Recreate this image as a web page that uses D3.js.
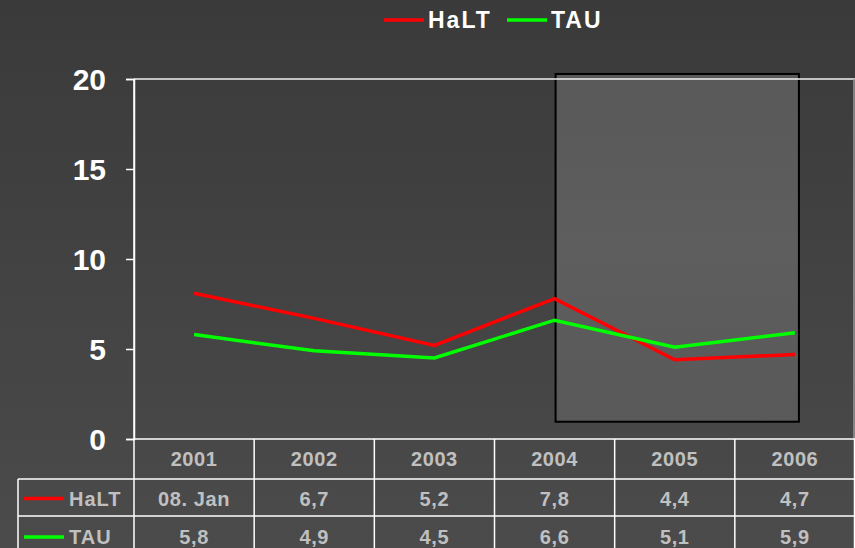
<!DOCTYPE html>
<html><head><meta charset="utf-8">
<script src="https://cdn.jsdelivr.net/npm/d3@7"></script>
<style>html,body{margin:0;padding:0;overflow:hidden;background:#3a3a3a}</style>
</head><body><svg id="c" width="855" height="548"></svg>
<script>
const categories = ["2001","2002","2003","2004","2005","2006"];
const haltValues = [8.1, 6.7, 5.2, 7.8, 4.4, 4.7];
const tauValues = [5.8, 4.9, 4.5, 6.6, 5.1, 5.9];
const haltLabels = ["08. Jan","6,7","5,2","7,8","4,4","4,7"];
const tauLabels = ["5,8","4,9","4,5","6,6","5,1","5,9"];
const seriesNames = ["HaLT","TAU"];
const seriesColors = ["#ff0000","#00ff00"];
const yTicks = [0,5,10,15,20];
const highlight = {from:"2004", to:"2006", low:0.96, high:20.28};

(function(){
const svg = d3.select("#c");
const W=855,H=548;
const defs = svg.append("defs");
const bg = defs.append("linearGradient").attr("id","bg").attr("x1",0).attr("y1",0).attr("x2",0).attr("y2",1);
bg.append("stop").attr("offset","0%").attr("stop-color","#3a3a3a");
bg.append("stop").attr("offset","100%").attr("stop-color","#4b4b4b");
const hg = defs.append("linearGradient").attr("id","hg").attr("x1",0).attr("y1",0).attr("x2",0).attr("y2",1);
hg.append("stop").attr("offset","0%").attr("stop-color","#595959");
hg.append("stop").attr("offset","50%").attr("stop-color","#5e5e5e");
hg.append("stop").attr("offset","100%").attr("stop-color","#595959");
svg.append("rect").attr("width",W).attr("height",H).attr("fill","url(#bg)");

const pLeft=134, pRight=855, pTop=79, pBottom=439;
const x = d3.scaleBand().domain(categories).range([pLeft,pRight]).padding(0);
const y = d3.scaleLinear().domain([0,20]).range([pBottom,pTop]);
const cx = c => x(c)+x.bandwidth()/2;

svg.append("rect")
  .attr("x", cx(highlight.from)+1).attr("y", y(highlight.high))
  .attr("width", cx(highlight.to)-cx(highlight.from)+3)
  .attr("height", y(highlight.low)-y(highlight.high))
  .attr("fill","url(#hg)").attr("stroke","#000").attr("stroke-width",2);

svg.append("line").attr("x1",pLeft).attr("x2",pRight).attr("y1",y(20)).attr("y2",y(20)).attr("stroke","#f0f0f0").attr("stroke-width",1.3);
svg.append("line").attr("x1",854).attr("x2",854).attr("y1",y(20)).attr("y2",pBottom).attr("stroke","#9a9a9a").attr("stroke-width",1.5);

const yAxis = d3.axisLeft(y).tickValues(yTicks).tickSize(8).tickPadding(20);
const ya = svg.append("g").attr("transform",`translate(${pLeft},0)`).call(yAxis);
ya.select(".domain").attr("stroke","#ffffff").attr("stroke-width",1.5);
ya.selectAll(".tick line").attr("stroke","#ffffff").attr("stroke-width",1.5);
ya.selectAll(".tick text").attr("fill","#ffffff").attr("font-family","Liberation Sans, Arial, sans-serif")
  .attr("font-weight","bold").attr("font-size","30px").attr("dy","0.35em");

const line = d3.line().x((d,i)=>cx(categories[i])).y(d=>y(d));
[haltValues,tauValues].forEach((vals,k)=>{
  svg.append("path").datum(vals).attr("d",line).attr("fill","none")
    .attr("stroke",seriesColors[k]).attr("stroke-width",3.5).attr("stroke-linejoin","miter");
});

const rowY = [439,479,516,548];
const tbl = svg.append("g");
const lc="#ffffff";
tbl.append("line").attr("x1",pLeft).attr("x2",pRight).attr("y1",rowY[0]).attr("y2",rowY[0]).attr("stroke",lc).attr("stroke-width",1.5);
tbl.append("line").attr("x1",18).attr("x2",pRight).attr("y1",rowY[1]).attr("y2",rowY[1]).attr("stroke",lc).attr("stroke-width",1.5);
tbl.append("line").attr("x1",18).attr("x2",pRight).attr("y1",rowY[2]).attr("y2",rowY[2]).attr("stroke",lc).attr("stroke-width",1.5);
tbl.append("line").attr("x1",18).attr("x2",18).attr("y1",rowY[1]).attr("y2",H).attr("stroke",lc).attr("stroke-width",1.5);
categories.forEach(c=>{
  tbl.append("line").attr("x1",x(c)).attr("x2",x(c)).attr("y1",x(c)===pLeft?pTop:rowY[0]).attr("y2",H).attr("stroke",lc).attr("stroke-width",1.5);
});
tbl.append("line").attr("x1",pRight-0.5).attr("x2",pRight-0.5).attr("y1",rowY[0]).attr("y2",H).attr("stroke",lc).attr("stroke-width",1.5);

const tf = "Liberation Sans, Arial, sans-serif";
const tcol = "#c0c0c0";
const fs = "20px";
tbl.selectAll("text.h").data(categories).join("text").attr("class","h")
  .attr("x",d=>cx(d)).attr("y",(rowY[0]+rowY[1])/2).attr("dy","0.36em")
  .attr("text-anchor","middle").attr("fill",tcol).attr("font-family",tf).attr("font-weight","bold")
  .attr("font-size",fs).attr("letter-spacing","0.6px").text(d=>d);
[haltLabels,tauLabels].forEach((labs,k)=>{
  const yc = k===0 ? (rowY[1]+rowY[2])/2+1 : (rowY[2]+rowY[3])/2+5;
  tbl.selectAll("text.r"+k).data(labs).join("text").attr("class","r"+k)
    .attr("x",(d,i)=>cx(categories[i])).attr("y",yc).attr("dy","0.36em")
    .attr("text-anchor","middle").attr("fill",tcol).attr("font-family",tf).attr("font-weight","bold")
    .attr("font-size",fs).attr("letter-spacing","0.6px").text(d=>d);
  tbl.append("line").attr("x1",24).attr("x2",64).attr("y1",yc).attr("y2",yc).attr("stroke",seriesColors[k]).attr("stroke-width",3.5);
  tbl.append("text").attr("x",69).attr("y",yc).attr("dy","0.36em").attr("fill",tcol).attr("font-family",tf)
    .attr("font-weight","bold").attr("font-size",fs).attr("letter-spacing","1px").text(seriesNames[k]);
});

const lg = svg.append("g");
const legX = [384,507];
seriesNames.forEach((n,k)=>{
  lg.append("line").attr("x1",legX[k]).attr("x2",legX[k]+40).attr("y1",20).attr("y2",20).attr("stroke",seriesColors[k]).attr("stroke-width",3.5);
  lg.append("text").attr("x",legX[k]+44).attr("y",20).attr("dy","0.36em").attr("fill","#ffffff").attr("font-family",tf)
    .attr("font-weight","bold").attr("font-size","23px").attr("letter-spacing","2px").text(n);
});
})();
</script></body></html>
